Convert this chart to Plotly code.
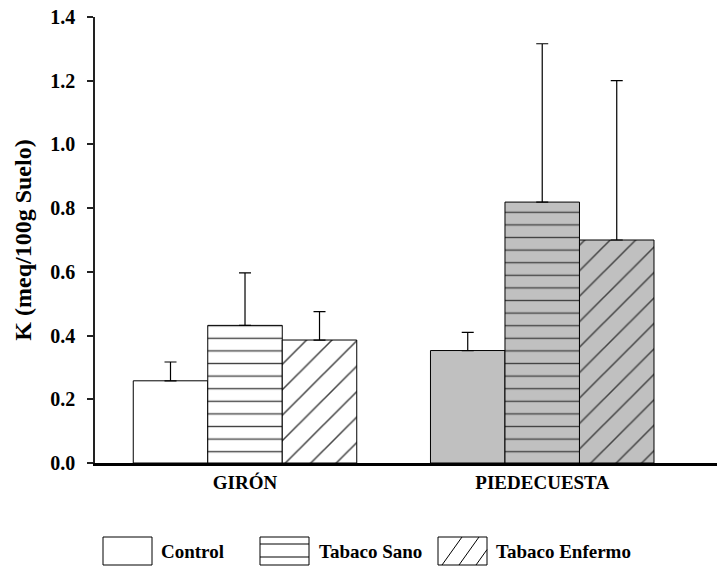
import plotly.graph_objects as go

# ---- data ----
groups = ["GIRÓN", "PIEDECUESTA"]
series = ["Control", "Tabaco Sano", "Tabaco Enfermo"]
control = [0.258, 0.353]
sano = [0.432, 0.819]
enfermo = [0.386, 0.700]
control_err = [0.059, 0.057]
sano_err = [0.165, 0.497]
enfermo_err = [0.089, 0.500]
y_ticks = [0.0, 0.2, 0.4, 0.6, 0.8, 1.0, 1.2, 1.4]

# ---- layout geometry ----
W, H = 728, 567
L, R, T, B = 95, 11, 17, 104
PW, PH = W - L - R, H - T - B
FONT = "Liberation Serif, Times New Roman, serif"
GRAY = "#c0c0c0"
bg = ["white", GRAY]
xpos = list(range(len(groups)))


def px(x):
    return (x - L) / PW


def py(y):
    return (H - B - y) / PH


fig = go.Figure()
vals = [control, sano, enfermo]
errs = [control_err, sano_err, enfermo_err]
shapes_pat = ["", "-", "/"]
sizes = [10, 12.6, 18]
solid = [0.1, 0.11, 0.085]
for name, v, e, shp, sz, so in zip(series, vals, errs, shapes_pat, sizes, solid):
    fig.add_trace(go.Bar(
        name=name, x=xpos, y=v,
        marker=dict(
            color=bg,
            line=dict(color="black", width=1),
            pattern=dict(shape=shp, fgcolor="black", fgopacity=1,
                         size=sz, solidity=so, fillmode="overlay"),
        ),
        error_y=dict(type="data", symmetric=False, array=e,
                     arrayminus=[0] * len(e), color="black",
                     thickness=1.2, width=6),
        showlegend=False,
    ))

# ---- custom legend (large swatches) ----
shapes = []
annotations = []
boxes = [(103, 152), (260, 309), (438, 487)]
text_x = [159, 317, 494]
by0, by1 = 537, 565
for i, ((x0, x1), tx, name) in enumerate(zip(boxes, text_x, series)):
    shapes.append(dict(type="rect", xref="paper", yref="paper",
                       x0=px(x0), x1=px(x1), y0=py(by1), y1=py(by0),
                       line=dict(color="black", width=1), fillcolor="white"))
    if i == 1:
        for ly in (544, 557):
            shapes.append(dict(type="line", xref="paper", yref="paper",
                               x0=px(x0), x1=px(x1), y0=py(ly), y1=py(ly),
                               line=dict(color="black", width=1)))
    if i == 2:
        for bx in (x0 + 4, x0 + 21, x0 + 38):
            tx1 = min(bx + 20, x1)
            ty = by1 - (tx1 - bx) * (by1 - by0) / 20
            shapes.append(dict(type="line", xref="paper", yref="paper",
                               x0=px(bx), x1=px(tx1), y0=py(by1), y1=py(ty),
                               line=dict(color="black", width=1)))
    annotations.append(dict(xref="paper", yref="paper", x=px(tx), y=py(551),
                            xanchor="left", yanchor="middle", text=name,
                            showarrow=False,
                            font=dict(family=FONT, size=19, color="black",
                                      weight="bold")))

fig.update_layout(
    width=W, height=H,
    margin=dict(l=L, r=R, t=T, b=B, autoexpand=False),
    paper_bgcolor="white", plot_bgcolor="white",
    barmode="group", bargap=0.248, bargroupgap=0,
    shapes=shapes, annotations=annotations,
    font=dict(family=FONT, color="black"),
    xaxis=dict(
        range=[-0.5047, 1.588], tickvals=xpos, ticktext=groups,
        showgrid=False, zeroline=False, showline=True,
        linecolor="black", linewidth=2.5, ticks="",
        tickfont=dict(family=FONT, size=19, color="black", weight="bold"),
        fixedrange=True, automargin=False,
    ),
    yaxis=dict(
        range=[0, 1.4], tickvals=y_ticks,
        ticktext=[f"{t:.1f}" for t in y_ticks],
        showgrid=False, zeroline=False, showline=True,
        linecolor="#222", linewidth=1.5,
        ticks="outside", ticklen=6, tickcolor="#222", tickwidth=1.5,
        ticklabelstandoff=8,
        tickfont=dict(family=FONT, size=20, color="black", weight="bold"),
        title=dict(text="K (meq/100g Suelo)", standoff=12,
                   font=dict(family=FONT, size=24, color="black",
                             weight="bold")),
        fixedrange=True, automargin=False,
    ),
)

fig.write_html(
    "out.html",
    config={"displayModeBar": False},
    post_script="document.body.style.margin='0';document.body.style.overflow='hidden';",
)
